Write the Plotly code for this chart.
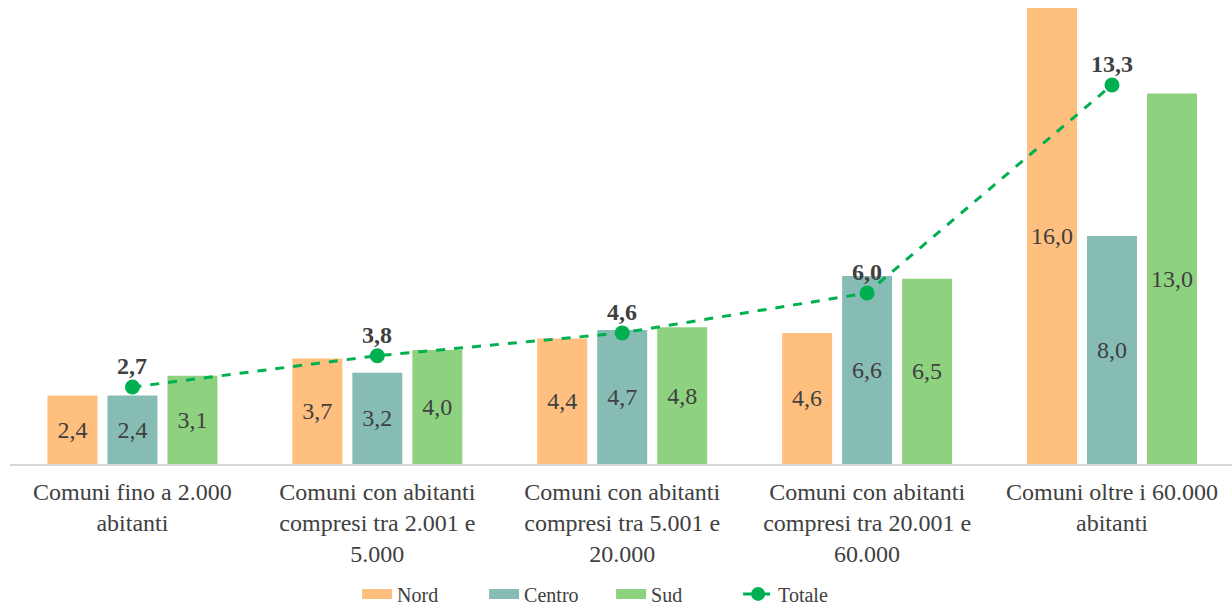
import plotly.graph_objects as go

categories = [
    "Comuni fino a 2.000<br>abitanti",
    "Comuni con abitanti<br>compresi tra 2.001 e<br>5.000",
    "Comuni con abitanti<br>compresi tra 5.001 e<br>20.000",
    "Comuni con abitanti<br>compresi tra 20.001 e<br>60.000",
    "Comuni oltre i 60.000<br>abitanti",
]
nord = [2.4, 3.7, 4.4, 4.6, 16.0]
centro = [2.4, 3.2, 4.7, 6.6, 8.0]
sud = [3.1, 4.0, 4.8, 6.5, 13.0]
totale = [2.7, 3.8, 4.6, 6.0, 13.3]

series = [("Nord", nord, "#FFBF7F"), ("Centro", centro, "#87BCB5"), ("Sud", sud, "#8ED280")]
FONT = "Liberation Serif"
TXT = "#404040"
FS = 24

fig = go.Figure()
for name, vals, col in series:
    fig.add_trace(go.Bar(
        x=categories, y=vals, name=name, marker=dict(color=col, line=dict(width=0)),
        texttemplate="%{y:.1f}", textposition="inside", insidetextanchor="middle",
        textangle=0, textfont=dict(family=FONT, size=FS, color=TXT),
        showlegend=False, legendgroup=name,
    ))

fig.add_trace(go.Scatter(
    x=categories, y=totale, name="Totale", mode="lines+markers",
    line=dict(color="#00B050", width=3, dash="dash"),
    marker=dict(color="#00B050", size=15),
    showlegend=False, legendgroup="Totale",
))
for c, v in zip(categories, totale):
    fig.add_annotation(x=c, y=v, text="<b>" + f"{v:.1f}".replace(".", ",") + "</b>",
                       showarrow=False, yanchor="middle", yshift=21,
                       font=dict(family=FONT, size=FS, color=TXT))

# legend entries (wide swatches)
for name, vals, col in series:
    fig.add_trace(go.Scatter(
        x=[None], y=[None], mode="lines", name=name,
        line=dict(color=col, width=12), legendgroup=name,
    ))
fig.add_trace(go.Scatter(
    x=[None], y=[None], mode="lines+markers", name="Totale",
    line=dict(color="#00B050", width=3, dash="dash"),
    marker=dict(color="#00B050", size=14), legendgroup="Totale",
))

fig.update_layout(
    width=1232, height=606,
    margin=dict(l=10, r=0, t=8, b=142, autoexpand=False),
    paper_bgcolor="white", plot_bgcolor="white",
    barmode="group", bargap=0.265, bargroupgap=0.167,
    separators=",.",
    font=dict(family=FONT, size=FS, color=TXT),
    xaxis=dict(showline=True, linecolor="#D9D9D9", linewidth=2, showgrid=False,
               ticks="", automargin=False, ticklabelstandoff=5, range=[-0.5, 4.49],
               tickfont=dict(family=FONT, size=FS, color=TXT)),
    yaxis=dict(range=[0, 16], visible=False, showgrid=False, zeroline=False),
    legend=dict(orientation="h", x=0.4919, xanchor="center", yref="container", y=0.02,
                yanchor="middle", font=dict(family=FONT, size=20, color=TXT),
                entrywidth=82, entrywidthmode="pixels", traceorder="normal"),
    showlegend=True,
)

fig.write_html("out.html")
